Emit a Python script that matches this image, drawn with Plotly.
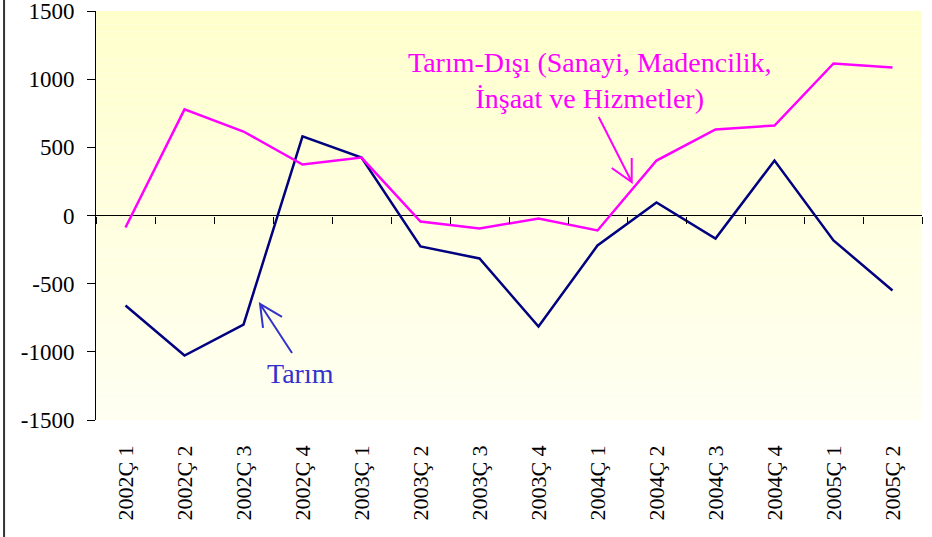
import plotly.graph_objects as go

quarters = ["2002Ç 1", "2002Ç 2", "2002Ç 3", "2002Ç 4", "2003Ç 1", "2003Ç 2", "2003Ç 3",
            "2003Ç 4", "2004Ç 1", "2004Ç 2", "2004Ç 3", "2004Ç 4", "2005Ç 1", "2005Ç 2"]
tarim = [-660, -1027, -800, 580, 425, -227, -315, -814, -220, 95, -169, 403, -183, -550]
tarim_disi = [-88, 778, 616, 374, 425, -44, -95, -22, -110, 403, 631, 660, 1115, 1086]
y_ticks = [-1500, -1000, -500, 0, 500, 1000, 1500]
y_tick_text = ["-1500", "-1000", "-500", "0", "500", "1000", "1500"]

FONT = "Liberation Serif, Tinos, Times New Roman, DejaVu Serif, serif"
NAVY = "#000080"
MAGENTA = "#FF00FF"
BLUE_TXT = "#3333CC"

fig = go.Figure()
fig.add_trace(go.Scatter(x=quarters, y=tarim, mode="lines", line=dict(color=NAVY, width=2.5),
                         name="Tarım", showlegend=False))
fig.add_trace(go.Scatter(x=quarters, y=tarim_disi, mode="lines", line=dict(color=MAGENTA, width=2.5),
                         name="Tarım-Dışı", showlegend=False))

shapes = []
# gradient background (top yellow -> bottom pale)
n = 60
top = (255, 255, 204)
bot = (255, 255, 242)
for i in range(n):
    t = i / (n - 1)
    c = tuple(round(top[k] + (bot[k] - top[k]) * t) for k in range(3))
    shapes.append(dict(type="rect", xref="paper", yref="paper", x0=0, x1=1,
                       y0=1 - (i + 1) / n, y1=1 - i / n, line=dict(width=0),
                       fillcolor="rgb(%d,%d,%d)" % c, layer="below"))
# left chart border
shapes.append(dict(type="line", xref="paper", yref="paper", x0=-0.1113, x1=-0.1113,
                   y0=-0.3, y1=1.03, line=dict(color="#333333", width=2)))
# arrows (V heads) anchored at data points, offsets in pixels
shapes.append(dict(type="path", xref="x", yref="y", xsizemode="pixel", ysizemode="pixel",
                   xanchor=2.28, yanchor=-649,
                   path="M 32,-49 L 0,0 M 22,-13 L 0,0 L 3,-24",
                   line=dict(color=BLUE_TXT, width=2)))
shapes.append(dict(type="path", xref="x", yref="y", xsizemode="pixel", ysizemode="pixel",
                   xanchor=8.58, yanchor=246,
                   path="M -33,65 L 0,0 M -20,14 L 0,0 L 0,24",
                   line=dict(color=MAGENTA, width=2)))

annotations = [
    dict(x=2.97, y=-1162, xref="x", yref="y", text="Tarım", showarrow=False,
         font=dict(family=FONT, size=28, color=BLUE_TXT)),
    dict(x=7.87, y=993, xref="x", yref="y",
         text="Tarım-Dışı (Sanayi, Madencilik,<br>İnşaat ve Hizmetler)", showarrow=False,
         font=dict(family=FONT, size=28, color=MAGENTA)),
]

fig.update_layout(
    width=932, height=537,
    margin=dict(l=96, r=10, t=11, b=117),
    paper_bgcolor="white", plot_bgcolor="rgba(0,0,0,0)",
    font=dict(family=FONT),
    shapes=shapes, annotations=annotations,
    xaxis=dict(type="category", range=[-0.5, 13.5], showgrid=False, showline=False, ticks="",
               tickangle=-90, tickfont=dict(family=FONT, size=22, color="black"),
               ticklabelstandoff=20, zeroline=False, automargin=False),
    xaxis2=dict(type="category", overlaying="x", anchor="free", position=0.5,
                side="bottom", showline=False, showticklabels=False, ticks="outside",
                tickson="boundaries", ticklen=7, tickcolor="black", showgrid=False,
                matches="x", automargin=False),
    yaxis=dict(range=[-1500, 1500], tickvals=y_ticks, ticktext=y_tick_text, showgrid=False,
               showline=True, linecolor="black", linewidth=1, ticks="outside", ticklen=8,
               tickcolor="black", zeroline=True, zerolinecolor="black", zerolinewidth=1,
               tickfont=dict(family=FONT, size=23, color="black"), ticklabelstandoff=8,
               ticklabeloverflow="allow", automargin=False),
)
fig.add_trace(go.Scatter(x=quarters, y=[None] * len(quarters), xaxis="x2", showlegend=False,
                         hoverinfo="skip"))
fig.write_html("out.html", config={"displayModeBar": False},
               post_script="document.body.style.margin='0';")
